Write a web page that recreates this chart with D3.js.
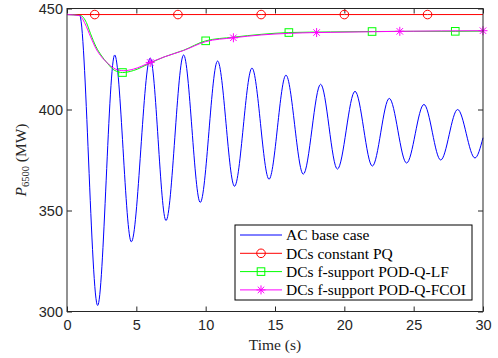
<!DOCTYPE html>
<html>
<head>
<meta charset="utf-8">
<script src="https://cdn.jsdelivr.net/npm/d3@7"></script>
<style>
  body { margin: 0; background: #fff; }
  .tick text { font-family: "Liberation Sans", Arial, sans-serif; font-size: 14.5px; fill: #262626; }
</style>
</head>
<body>
<div id="grafica"></div>
<script>
// datos
const acT = [0, 0.9, 2.21, 3.44, 4.64, 6.0, 7.14, 8.41, 9.61, 10.86, 12.08, 13.34, 14.57, 15.79, 17.04, 18.29, 19.5, 20.77, 22.02, 23.24, 24.49, 25.74, 26.95, 28.17, 29.42, 30];
const acP = [447, 447, 303, 427, 334.5, 425.5, 345, 427, 354, 424, 362, 420.5, 365.5, 417, 368, 412.5, 370.5, 409, 372, 405.5, 373.5, 402.5, 375, 400, 376, 386];

const pqT = [0, 2, 8, 14, 20, 26, 30];
const pqP = [447, 447, 447, 447, 447, 447, 447];

const lfT = [0, 1.0, 1.4, 1.7, 2.1, 2.5, 2.9, 3.4, 4.0, 4.8, 6.0, 7.0, 8.4, 10.0, 12.0, 14.0, 16.0, 19.0, 22.0, 25.0, 28.0, 30.0];
const lfP = [447, 446.5, 443, 437.5, 431, 426.5, 423, 419.5, 418.3, 419.3, 423, 426, 429.3, 434, 435.8, 437.2, 438.1, 438.4, 438.6, 438.7, 438.7, 438.8];

const fcT = [0, 0.9, 1.3, 1.7, 2.1, 2.5, 3.0, 3.5, 4.1, 4.8, 6.0, 7.0, 8.4, 10.0, 12.0, 14.0, 16.0, 18.0, 21.0, 24.0, 27.0, 30.0];
const fcP = [447, 446.5, 442.5, 436, 430, 426, 422.5, 420, 419.2, 420, 423.3, 426, 429.2, 433.6, 435.5, 436.9, 437.7, 438.1, 438.4, 438.7, 438.9, 439];

// tiempos donde van los marcadores
const pqMarks = [2, 8, 14, 20, 26];
const lfMarks = [4, 10, 16, 22, 28];
const fcMarks = [6, 12, 18, 24, 30];

const xTicks = [0, 5, 10, 15, 20, 25, 30];
const yTicks = [300, 350, 400, 450];

const series = [
  {name: "AC base case", t: acT, p: acP, color: "#0000ff", marks: [], marker: null},
  {name: "DCs constant PQ", t: pqT, p: pqP, color: "#ff0000", marks: pqMarks, marker: "circle"},
  {name: "DCs f-support POD-Q-LF", t: lfT, p: lfP, color: "#00ff00", marks: lfMarks, marker: "square"},
  {name: "DCs f-support POD-Q-FCOI", t: fcT, p: fcP, color: "#ff00ff", marks: fcMarks, marker: "star"}
];

const margin = {top: 8.5, right: 15, bottom: 46.5, left: 67};
const anchoTotal = 498, altoTotal = 358;
const width = anchoTotal - margin.left - margin.right;
const height = altoTotal - margin.top - margin.bottom;
const serif = "Liberation Serif, Times New Roman, serif";

const svg = d3.select("#grafica").append("svg")
  .attr("width", anchoTotal)
  .attr("height", altoTotal);

const g = svg.append("g").attr("transform", `translate(${margin.left},${margin.top})`);

const x = d3.scaleLinear().domain([0, 30]).range([0, width]);
const y = d3.scaleLinear().domain([300, 450]).range([height, 0]);

const axisColor = "#262626";

// ejes
const xAxis = g.append("g").attr("transform", `translate(0,${height})`)
  .call(d3.axisBottom(x).tickValues(xTicks).tickSize(-5).tickSizeOuter(0).tickPadding(8));
const yAxis = g.append("g")
  .call(d3.axisLeft(y).tickValues(yTicks).tickSize(-5).tickSizeOuter(0).tickPadding(4));
const xTop = g.append("g")
  .call(d3.axisTop(x).tickValues(xTicks).tickSize(-5).tickSizeOuter(0).tickFormat(""));
const yRight = g.append("g").attr("transform", `translate(${width},0)`)
  .call(d3.axisRight(y).tickValues(yTicks).tickSize(-5).tickSizeOuter(0).tickFormat(""));

[xAxis, yAxis, xTop, yRight].forEach(a => {
  a.selectAll("path, line").attr("stroke", axisColor);
  a.select(".domain").remove();
});

const line = d3.line().curve(d3.curveMonotoneX);

function drawMarker(sel, type, color, cx, cy) {
  if (type === "circle") {
    sel.append("circle").attr("cx", cx).attr("cy", cy).attr("r", 4.3)
      .attr("fill", "none").attr("stroke", color).attr("stroke-width", 1);
  } else if (type === "square") {
    sel.append("rect").attr("x", cx - 3.8).attr("y", cy - 3.8).attr("width", 7.6).attr("height", 7.6)
      .attr("fill", "none").attr("stroke", color).attr("stroke-width", 1);
  } else if (type === "star") {
    const r = 4.5, d = r * 0.72;
    const segs = [[-r, 0, r, 0], [0, -r, 0, r], [-d, -d, d, d], [-d, d, d, -d]];
    segs.forEach(s => sel.append("line")
      .attr("x1", cx + s[0]).attr("y1", cy + s[1]).attr("x2", cx + s[2]).attr("y2", cy + s[3])
      .attr("stroke", color).attr("stroke-width", 1));
  }
}

series.forEach(s => {
  const pts = s.t.map((t, i) => [x(t), y(s.p[i])]);
  g.append("path")
    .attr("d", line(pts))
    .attr("fill", "none")
    .attr("stroke", s.color)
    .attr("stroke-width", 1);
  const mg = g.append("g");
  s.marks.forEach(mt => {
    const i = s.t.indexOf(mt);
    drawMarker(mg, s.marker, s.color, x(mt), y(s.p[i]));
  });
});

// marco
g.append("rect").attr("width", width).attr("height", height)
  .attr("fill", "none").attr("stroke", axisColor).attr("stroke-width", 1);

// etiquetas de los ejes
svg.append("text")
  .attr("x", margin.left + width / 2).attr("y", 350)
  .attr("text-anchor", "middle")
  .attr("font-family", serif).attr("font-size", 15.5)
  .attr("fill", axisColor)
  .text("Time (s)");

const ylab = svg.append("text")
  .attr("transform", `translate(26,${margin.top + height / 2}) rotate(-90)`)
  .attr("text-anchor", "middle")
  .attr("font-family", serif).attr("font-size", 15.5)
  .attr("fill", axisColor);
ylab.append("tspan").attr("font-style", "italic").text("P");
ylab.append("tspan").attr("font-size", 10.5).attr("dy", 3).text("6500");
ylab.append("tspan").attr("dy", -3).text(" (MW)");

// leyenda
const leg = svg.append("g").attr("transform", "translate(235,225)");
leg.append("rect").attr("width", 237).attr("height", 75)
  .attr("fill", "#fff").attr("stroke", "#000").attr("stroke-width", 1);
series.forEach((s, i) => {
  const yy = 10 + i * 18.3;
  leg.append("line").attr("x1", 5).attr("x2", 47).attr("y1", yy).attr("y2", yy)
    .attr("stroke", s.color).attr("stroke-width", 1);
  if (s.marker) drawMarker(leg, s.marker, s.color, 26, yy);
  leg.append("text").attr("x", 51).attr("y", yy).attr("dy", "0.35em")
    .attr("font-family", serif).attr("font-size", 15.5)
    .attr("fill", "#000")
    .text(s.name);
});
</script>
</body>
</html>
